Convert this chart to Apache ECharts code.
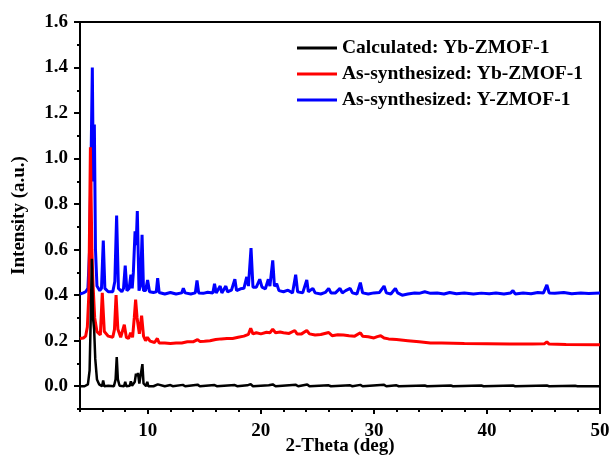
<!DOCTYPE html>
<html><head><meta charset="utf-8">
<script src="https://cdn.jsdelivr.net/npm/echarts@6/dist/echarts.min.js"></script>
<style>html,body{margin:0;padding:0;background:#fff}#c{width:611px;height:462px}</style>
</head><body><div id="c"></div>
<script>
const seriesNames = ['Calculated: Yb-ZMOF-1', 'As-synthesized: Yb-ZMOF-1', 'As-synthesized: Y-ZMOF-1'];
const xTickLabels = [10, 20, 30, 40, 50];
const yTickLabels = [0, 0.2, 0.4, 0.6, 0.8, 1.0, 1.2, 1.4, 1.6];

const calculated = [
 [4.0,0.0],[4.4,0.0],[4.7,0.008],[4.85,0.07],[4.95,0.3],[5.05,0.56],[5.15,0.3],[5.25,0.25],[5.35,0.12],[5.5,0.03],[5.7,0.008],
 [5.95,0.0],[6.05,0.025],[6.15,0.0],[6.5,0.002],[7.0,0.0],[7.15,0.03],[7.25,0.128],[7.35,0.03],[7.5,0.002],[7.9,0.0],[8.0,0.02],
 [8.1,0.0],[8.4,0.002],[8.5,0.022],[8.6,0.002],[8.85,0.02],[8.95,0.055],[9.05,0.045],[9.13,0.058],[9.25,0.012],[9.4,0.02],
 [9.52,0.097],[9.62,0.012],[9.85,0.0],[9.95,0.02],[10.05,0.0],[10.5,0.0],[10.88,0.008],[11.0,0.0],[11.5,0.0],[12.0,0.005],
 [12.2,0.0],[13.1,0.006],[13.3,0.0],[14.4,0.007],[14.6,0.0],[15.9,0.005],[16.1,0.0],[17.7,0.005],[17.9,0.0],[18.8,0.004],
 [19.1,0.009],[19.3,0.0],[20.7,0.004],[21.05,0.008],[21.3,0.0],[23.1,0.006],[23.3,0.0],[24.1,0.008],[24.3,0.0],[26.0,0.004],
 [26.2,0.0],[27.9,0.004],[28.1,0.0],[28.8,0.006],[29.0,0.0],[30.9,0.006],[31.1,0.0],[32.0,0.004],[32.2,0.0],[34.5,0.003],
 [34.7,0.0],[36.8,0.003],[37.0,0.0],[39.5,0.003],[39.7,0.0],[42.3,0.003],[42.5,0.0],[45.3,0.003],[45.5,0.0],[47.8,0.002],[48.0,0.0],[50.0,0.0]
];

const asSynYb = [
 [4.0,0.21],[4.3,0.212],[4.5,0.22],[4.65,0.26],[4.78,0.4],[4.92,1.05],[5.05,0.6],[5.15,0.45],[5.3,0.3],[5.5,0.24],[5.8,0.225],
 [5.97,0.41],[6.15,0.24],[6.5,0.22],[6.9,0.215],[7.05,0.25],[7.19,0.40],[7.35,0.25],[7.6,0.215],[7.92,0.27],[8.1,0.215],
 [8.3,0.21],[8.48,0.235],[8.65,0.215],[8.8,0.3],[8.92,0.38],[9.05,0.3],[9.25,0.23],[9.45,0.31],[9.62,0.22],[9.8,0.2],
 [9.96,0.215],[10.2,0.198],[10.6,0.192],[10.84,0.21],[11.0,0.19],[11.5,0.19],[12.0,0.188],[12.5,0.19],[13.0,0.19],
 [13.5,0.195],[14.0,0.195],[14.4,0.205],[14.6,0.197],[15.0,0.198],[15.5,0.2],[16.0,0.205],[16.5,0.208],[17.0,0.21],
 [17.5,0.21],[18.0,0.215],[18.5,0.22],[18.9,0.228],[19.1,0.255],[19.3,0.23],[19.6,0.235],[20.0,0.23],[20.5,0.237],
 [20.8,0.235],[21.05,0.25],[21.3,0.235],[21.7,0.238],[22.0,0.235],[22.5,0.232],[23.0,0.245],[23.2,0.23],[23.6,0.23],
 [24.06,0.245],[24.3,0.23],[24.8,0.225],[25.3,0.227],[26.0,0.236],[26.3,0.222],[26.8,0.226],[27.3,0.225],[27.8,0.222],
 [28.3,0.22],[28.8,0.235],[29.0,0.22],[29.5,0.217],[30.0,0.212],[30.3,0.218],[30.6,0.222],[30.9,0.212],[31.3,0.208],
 [32.0,0.205],[33.0,0.2],[34.0,0.195],[35.0,0.19],[36.0,0.19],[38.0,0.188],[40.0,0.187],[42.0,0.186],[44.0,0.185],
 [45.1,0.187],[45.3,0.195],[45.5,0.185],[47.0,0.183],[50.0,0.182]
];

const asSynY = [
 [4.0,0.405],[4.3,0.41],[4.5,0.415],[4.7,0.43],[4.85,0.6],[4.98,1.0],[5.09,1.40],[5.18,0.9],[5.27,1.15],[5.37,0.6],
 [5.5,0.44],[5.75,0.42],[5.9,0.43],[6.06,0.64],[6.2,0.43],[6.5,0.415],[6.9,0.415],[7.08,0.46],[7.24,0.75],[7.4,0.43],
 [7.7,0.415],[7.85,0.43],[8.0,0.53],[8.15,0.42],[8.35,0.43],[8.5,0.49],[8.62,0.43],[8.72,0.5],[8.87,0.68],[8.97,0.62],
 [9.07,0.77],[9.22,0.42],[9.35,0.44],[9.49,0.665],[9.62,0.42],[9.8,0.42],[9.98,0.467],[10.15,0.415],[10.5,0.412],
 [10.75,0.415],[10.87,0.475],[11.0,0.412],[11.5,0.405],[12.0,0.412],[12.5,0.405],[13.0,0.41],[13.14,0.43],[13.3,0.41],
 [13.8,0.405],[14.2,0.41],[14.35,0.465],[14.5,0.41],[14.9,0.408],[15.3,0.413],[15.75,0.41],[15.9,0.45],[16.05,0.41],
 [16.4,0.44],[16.55,0.41],[16.9,0.44],[17.05,0.415],[17.4,0.422],[17.7,0.47],[17.85,0.42],[18.2,0.428],[18.5,0.43],
 [18.75,0.48],[18.9,0.44],[19.13,0.607],[19.3,0.435],[19.6,0.435],[19.9,0.47],[20.1,0.435],[20.4,0.428],[20.66,0.47],
 [20.8,0.44],[21.05,0.553],[21.2,0.44],[21.4,0.45],[21.6,0.42],[22.0,0.415],[22.4,0.422],[22.8,0.41],[23.08,0.49],
 [23.25,0.415],[23.7,0.41],[24.06,0.467],[24.2,0.415],[24.6,0.43],[24.8,0.41],[25.3,0.405],[25.7,0.412],[26.0,0.43],
 [26.2,0.41],[26.6,0.41],[27.0,0.43],[27.2,0.41],[27.5,0.42],[27.9,0.43],[28.1,0.41],[28.5,0.405],[28.8,0.455],[29.0,0.41],
 [29.5,0.405],[30.0,0.41],[30.5,0.412],[30.9,0.44],[31.1,0.41],[31.5,0.405],[31.9,0.43],[32.1,0.41],[32.5,0.4],[33.0,0.405],
 [33.6,0.41],[34.0,0.408],[34.5,0.415],[35.0,0.408],[35.6,0.41],[36.2,0.405],[36.7,0.412],[37.3,0.406],[38.0,0.41],
 [38.8,0.405],[39.5,0.409],[40.2,0.406],[40.8,0.41],[41.5,0.405],[42.1,0.41],[42.3,0.42],[42.5,0.405],[43.2,0.41],
 [43.9,0.406],[44.5,0.412],[45.0,0.41],[45.3,0.445],[45.5,0.41],[46.0,0.408],[46.8,0.412],[47.5,0.406],[48.3,0.41],
 [49.0,0.407],[50.0,0.41]
];

const FONT = '"Liberation Serif","Times New Roman",serif';
const chart = echarts.init(document.getElementById('c'));
const grid = {left: 80, right: 11, top: 22, bottom: 53, show: true, borderColor: '#000', borderWidth: 2,
  containLabel: false, outerBoundsMode: 'none'};
chart.setOption({
  animation: false,
  grid: grid,
  legend: {
    orient: 'vertical', left: 292, top: 33, itemGap: 6, itemWidth: 40, itemHeight: 3, icon: 'rect',
    data: seriesNames,
    textStyle: {fontFamily: FONT, fontWeight: 'bold', fontSize: 19.5, color: '#000'}
  },
  xAxis: [
    {type: 'value', min: 4, max: 50, interval: 2, position: 'bottom',
     name: '2-Theta (deg)', nameLocation: 'middle', nameGap: 28, nameMoveOverlap: false,
     nameTextStyle: {fontFamily: FONT, fontWeight: 'bold', fontSize: 19, color: '#000'},
     axisLine: {show: true, onZero: false, lineStyle: {color: '#000', width: 2}},
     axisTick: {show: true, length: 3, lineStyle: {color: '#000', width: 2}},
     axisLabel: {fontFamily: FONT, fontWeight: 'bold', fontSize: 19, color: '#000', margin: 13,
       formatter: v => xTickLabels.indexOf(Math.round(v)) >= 0 && Math.abs(v - Math.round(v)) < 1e-6 ? String(Math.round(v)) : ''},
     splitLine: {show: false}},
    {type: 'value', min: 4, max: 50, position: 'bottom',
     axisLine: {show: false, onZero: false},
     axisTick: {show: true, length: 5, customValues: xTickLabels, lineStyle: {color: '#000', width: 2}},
     axisLabel: {show: false}, splitLine: {show: false}}
  ],
  yAxis: [
    {type: 'value', min: -0.1, max: 1.6, interval: 0.1, position: 'left',
     name: 'Intensity (a.u.)', nameLocation: 'middle', nameGap: 51, nameMoveOverlap: false,
     nameTextStyle: {fontFamily: FONT, fontWeight: 'bold', fontSize: 19, color: '#000'},
     axisLine: {show: true, onZero: false, lineStyle: {color: '#000', width: 2}},
     axisTick: {show: true, length: 3, lineStyle: {color: '#000', width: 2}},
     axisLabel: {fontFamily: FONT, fontWeight: 'bold', fontSize: 19, color: '#000', margin: 12,
       formatter: v => { const k = Math.round(v * 10); return (k >= 0 && k % 2 === 0) ? (k / 10).toFixed(1) : ''; }},
     splitLine: {show: false}},
    {type: 'value', min: -0.1, max: 1.6, position: 'left',
     axisLine: {show: false, onZero: false},
     axisTick: {show: true, length: 6, customValues: yTickLabels, lineStyle: {color: '#000', width: 2}},
     axisLabel: {show: false}, splitLine: {show: false}}
  ],
  series: [
    {name: seriesNames[2], type: 'line', data: asSynY, showSymbol: false, symbol: 'none',
     lineStyle: {color: '#0000ff', width: 3}, itemStyle: {color: '#0000ff'}, z: 2},
    {name: seriesNames[1], type: 'line', data: asSynYb, showSymbol: false, symbol: 'none',
     lineStyle: {color: '#ff0000', width: 3}, itemStyle: {color: '#ff0000'}, z: 3},
    {name: seriesNames[0], type: 'line', data: calculated, showSymbol: false, symbol: 'none',
     lineStyle: {color: '#000000', width: 2.5}, itemStyle: {color: '#000000'}, z: 4}
  ]
});
</script></body></html>
